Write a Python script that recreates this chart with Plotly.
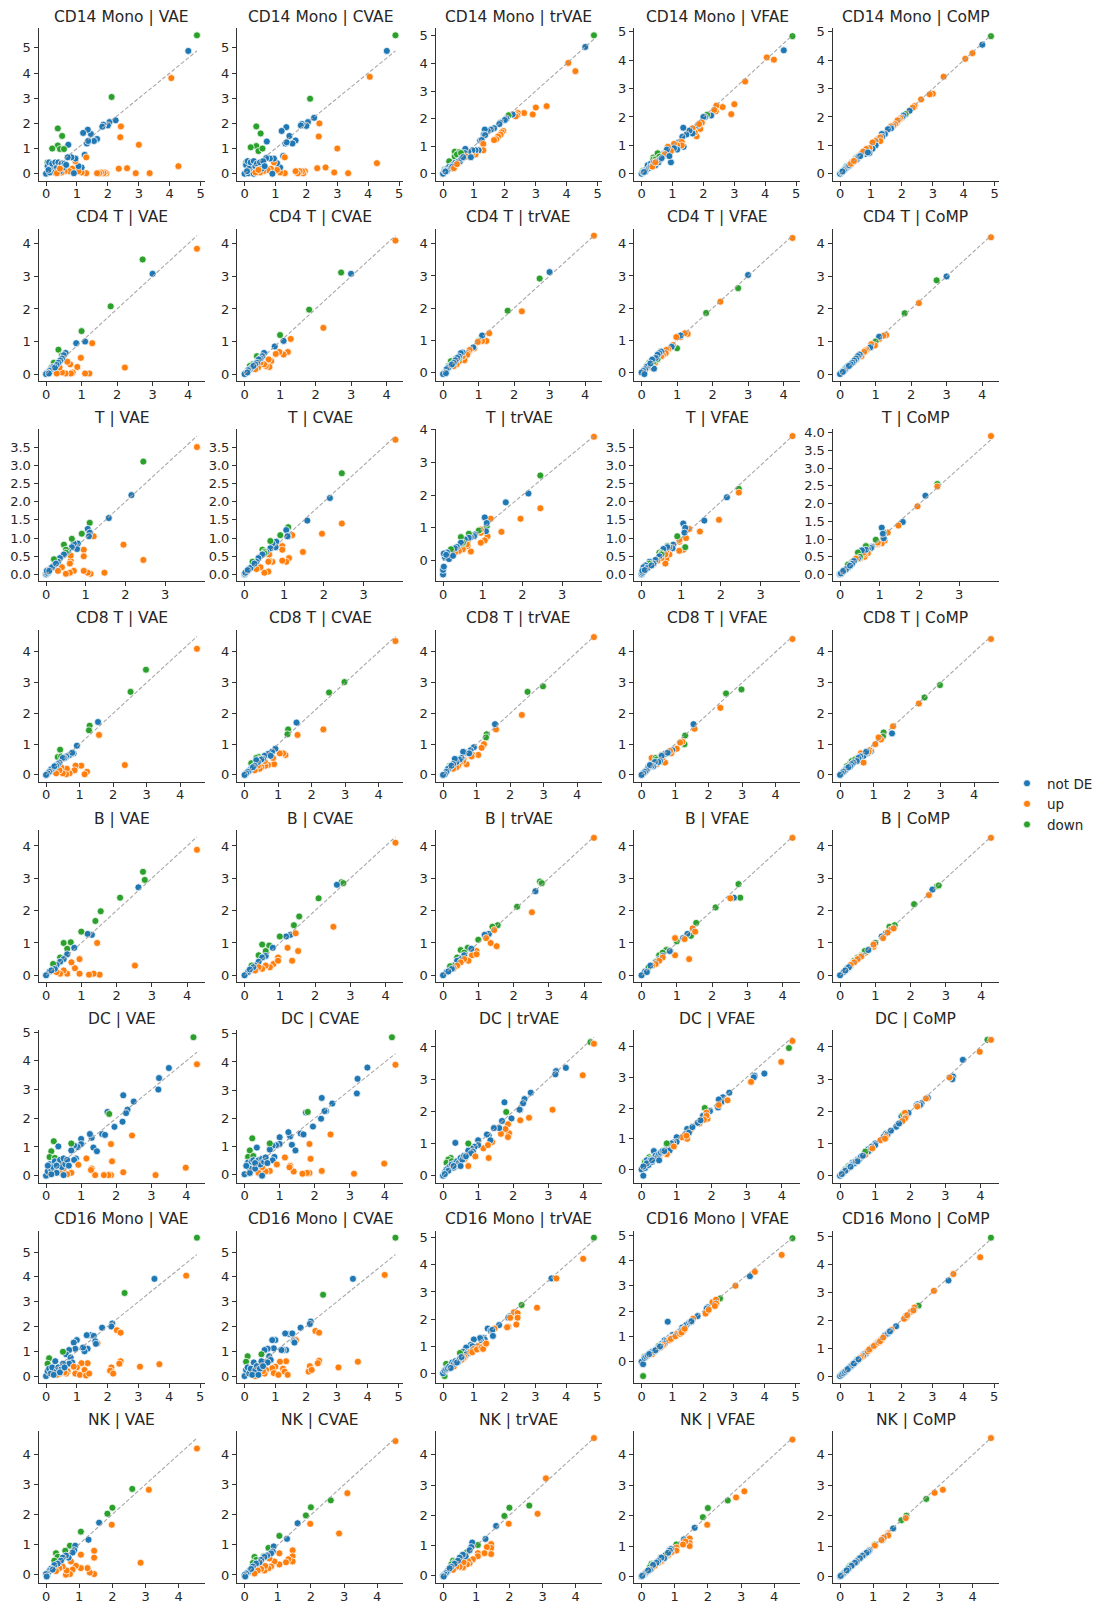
import plotly.graph_objects as go

# ---------------- data ----------------
CELL_TYPES = ["CD14 Mono", "CD4 T", "T", "CD8 T", "B", "DC", "CD16 Mono", "NK"]
METHODS = ["VAE", "CVAE", "trVAE", "VFAE", "CoMP"]
STATUS_LABELS = ["not DE", "up", "down"]
STATUS_COLORS = ["#1f77b4", "#ff7f0e", "#2ca02c"]

# rows: (true value, status 0=not DE/1=up/2=down, VAE, CVAE, trVAE, VFAE, CoMP)
CD14_MONO = [
    (4.88, 2, 5.50, 5.50, 5.02, 4.85, 4.85), (4.60, 0, 4.88, 4.88, 4.60, 4.35, 4.55),
    (4.28, 1, 0.30, 0.42, 3.72, 4.02, 4.25), (4.05, 1, 3.80, 3.85, 4.02, 4.10, 4.05),
    (3.35, 1, 0.02, 0.02, 2.45, 3.25, 3.42), (3.00, 1, 1.15, 1.00, 2.40, 2.45, 2.82),
    (2.90, 1, 0.02, 0.05, 2.15, 2.10, 2.80), (2.62, 1, 0.22, 0.25, 2.20, 2.35, 2.62),
    (2.42, 1, 1.88, 2.00, 2.20, 2.40, 2.40), (2.40, 1, 1.45, 1.48, 2.12, 2.20, 2.38),
    (2.35, 1, 0.20, 0.22, 2.08, 2.25, 2.33), (2.25, 0, 2.12, 2.22, 2.15, 2.05, 2.22),
    (2.12, 2, 3.05, 2.98, 2.12, 2.08, 2.10), (2.05, 0, 2.05, 2.05, 2.00, 2.00, 2.05),
    (2.00, 0, 1.92, 1.90, 1.95, 2.00, 1.98), (1.95, 1, 0.02, 0.10, 1.55, 1.80, 1.95),
    (1.90, 1, 0.05, 0.02, 1.50, 1.58, 1.90), (1.85, 0, 1.95, 1.98, 1.85, 1.75, 1.85),
    (1.82, 0, 1.87, 1.92, 1.80, 1.70, 1.80), (1.86, 1, 0.02, 0.10, 1.42, 1.75, 1.88),
    (1.78, 1, 0.05, 0.10, 1.35, 1.32, 1.75), (1.72, 1, 0.02, 0.02, 1.25, 1.45, 1.70),
    (1.65, 1, 0.02, 0.10, 1.22, 1.60, 1.67), (1.65, 0, 1.38, 1.32, 1.65, 1.42, 1.60),
    (1.55, 0, 1.30, 1.20, 1.60, 1.52, 1.57), (1.45, 0, 1.58, 1.50, 1.55, 1.38, 1.40),
    (1.35, 0, 1.75, 1.85, 1.60, 1.62, 1.40), (1.32, 0, 1.20, 1.20, 1.42, 1.30, 1.25),
    (1.36, 0, 1.30, 1.25, 1.40, 0.95, 1.30), (1.20, 0, 1.62, 1.70, 1.20, 1.10, 1.20),
    (1.25, 0, 0.75, 0.70, 1.22, 1.05, 1.22), (1.30, 1, 0.65, 0.65, 1.08, 1.12, 1.28),
    (1.30, 1, 0.02, 0.02, 0.85, 1.00, 1.15), (1.15, 1, 0.05, 0.05, 0.85, 1.00, 1.15),
    (1.15, 0, 0.25, 0.25, 0.85, 0.85, 1.00), (1.05, 1, 0.10, 0.15, 0.70, 1.05, 1.10),
    (1.05, 0, 0.30, 0.42, 0.85, 0.90, 0.88), (0.95, 1, 0.50, 0.45, 0.75, 0.80, 0.90),
    (0.95, 0, 0.60, 0.60, 0.85, 0.40, 0.73), (0.85, 1, 0.20, 0.20, 0.70, 0.95, 0.87),
    (0.82, 0, 0.65, 0.60, 0.80, 0.85, 0.70), (0.72, 0, 1.15, 1.28, 0.90, 0.70, 0.75),
    (0.70, 0, 0.65, 0.62, 0.75, 0.62, 0.70), (0.75, 1, 0.10, 0.15, 0.62, 0.68, 0.78),
    (0.60, 1, 0.10, 0.10, 0.55, 0.58, 0.62), (0.50, 1, 0.05, 0.05, 0.50, 0.40, 0.50),
    (0.38, 2, 1.80, 1.88, 0.80, 0.57, 0.40), (0.52, 2, 1.50, 1.60, 0.78, 0.72, 0.55),
    (0.38, 2, 1.12, 1.10, 0.62, 0.50, 0.38), (0.45, 2, 0.98, 0.90, 0.70, 0.50, 0.45),
    (0.20, 2, 1.00, 1.05, 0.45, 0.30, 0.25), (0.58, 2, 0.98, 1.00, 0.75, 0.60, 0.58),
    (0.05, 2, 0.45, 0.45, 0.15, 0.10, 0.08), (0.00, 0, 0.00, 0.00, 0.00, 0.00, 0.00),
    (0.05, 0, 0.30, 0.35, 0.10, 0.05, 0.05), (0.10, 0, 0.45, 0.50, 0.15, 0.10, 0.10),
    (0.15, 0, 0.20, 0.20, 0.20, 0.15, 0.15), (0.20, 0, 0.40, 0.45, 0.25, 0.30, 0.20),
    (0.25, 0, 0.10, 0.05, 0.20, 0.20, 0.25), (0.30, 0, 0.45, 0.50, 0.30, 0.35, 0.28),
    (0.35, 0, 0.25, 0.30, 0.35, 0.25, 0.33), (0.40, 0, 0.45, 0.40, 0.40, 0.40, 0.40),
    (0.45, 0, 0.10, 0.15, 0.35, 0.30, 0.45), (0.50, 0, 0.40, 0.45, 0.45, 0.42, 0.48),
    (0.55, 0, 0.25, 0.20, 0.45, 0.40, 0.52), (0.60, 0, 0.40, 0.50, 0.55, 0.50, 0.60),
    (0.12, 0, 0.05, 0.02, 0.10, 0.08, 0.12), (0.08, 0, 0.15, 0.10, 0.08, 0.06, 0.08),
    (0.30, 0, 0.05, 0.00, 0.25, 0.25, 0.30), (0.65, 0, 0.35, 0.30, 0.60, 0.55, 0.62),
    (0.90, 0, 0.02, 0.00, 0.60, 0.62, 0.75), (0.35, 1, 0.02, 0.05, 0.20, 0.25, 0.35),
    (0.45, 1, 0.20, 0.15, 0.35, 0.40, 0.45),
]

CD4_T = [
    (4.25, 1, 3.85, 4.10, 4.25, 4.18, 4.20), (3.00, 0, 3.08, 3.08, 3.12, 3.03, 3.00),
    (2.72, 2, 3.52, 3.12, 2.92, 2.62, 2.88), (2.22, 1, 0.20, 1.42, 1.90, 2.20, 2.18),
    (1.82, 2, 2.08, 1.98, 1.92, 1.85, 1.87), (1.30, 1, 0.95, 1.08, 1.22, 1.20, 1.20),
    (1.22, 1, 0.02, 0.68, 0.98, 1.22, 1.18), (1.10, 1, 0.02, 0.60, 0.98, 1.10, 1.08),
    (1.10, 0, 1.00, 1.02, 1.15, 1.15, 1.15), (1.00, 2, 1.32, 1.20, 0.98, 0.75, 1.00),
    (0.98, 1, 0.50, 0.68, 0.95, 1.10, 0.88), (0.88, 1, 0.22, 0.62, 0.75, 0.85, 0.92),
    (0.85, 0, 0.95, 0.85, 0.78, 0.80, 0.82), (0.75, 1, 0.05, 0.40, 0.70, 0.72, 0.75),
    (0.70, 1, 0.02, 0.22, 0.60, 0.70, 0.72), (0.68, 1, 0.30, 0.45, 0.55, 0.60, 0.68),
    (0.60, 1, 0.38, 0.25, 0.38, 0.55, 0.55), (0.55, 1, 0.02, 0.30, 0.50, 0.50, 0.58),
    (0.45, 1, 0.05, 0.35, 0.35, 0.40, 0.45), (0.38, 1, 0.20, 0.20, 0.25, 0.30, 0.38),
    (0.30, 1, 0.02, 0.15, 0.20, 0.15, 0.30), (0.35, 2, 0.75, 0.55, 0.42, 0.35, 0.35),
    (0.45, 2, 0.58, 0.50, 0.45, 0.42, 0.45), (0.22, 2, 0.35, 0.30, 0.35, 0.30, 0.25),
    (0.15, 2, 0.20, 0.25, 0.20, 0.20, 0.18), (0.55, 0, 0.65, 0.65, 0.62, 0.65, 0.60),
    (0.50, 0, 0.58, 0.55, 0.60, 0.60, 0.55), (0.45, 0, 0.48, 0.48, 0.50, 0.55, 0.48),
    (0.40, 0, 0.42, 0.45, 0.45, 0.45, 0.42), (0.35, 0, 0.35, 0.35, 0.38, 0.12, 0.35),
    (0.30, 0, 0.28, 0.30, 0.30, 0.40, 0.30), (0.20, 0, 0.22, 0.20, 0.22, 0.22, 0.22),
    (0.15, 0, 0.15, 0.15, 0.15, 0.18, 0.15), (0.10, 0, 0.10, 0.12, 0.10, 0.10, 0.10),
    (0.05, 0, 0.05, 0.05, 0.00, 0.05, 0.05), (0.00, 0, 0.00, 0.00, -0.05, 0.00, 0.00),
    (0.25, 0, 0.20, 0.25, 0.25, 0.28, 0.25), (0.08, 0, 0.02, 0.05, -0.02, -0.05, 0.07),
]

T_CELL = [
    (3.80, 1, 3.50, 3.70, 3.78, 3.80, 3.90), (2.45, 2, 3.10, 2.78, 2.60, 2.35, 2.55),
    (2.45, 1, 0.40, 1.40, 1.60, 2.25, 2.48), (2.15, 0, 2.18, 2.10, 2.05, 2.12, 2.22),
    (1.95, 1, 0.82, 1.12, 1.28, 1.50, 1.92), (1.58, 0, 1.55, 1.48, 1.78, 1.48, 1.48),
    (1.47, 1, 0.05, 0.62, 0.88, 1.18, 1.38), (1.20, 1, 1.05, 1.08, 1.28, 1.25, 1.18),
    (1.12, 1, 0.02, 0.45, 0.75, 1.00, 0.95), (1.05, 1, 0.05, 0.35, 0.62, 0.68, 0.88),
    (1.10, 2, 1.42, 1.30, 1.05, 0.75, 1.18), (1.05, 0, 1.25, 1.22, 1.32, 1.40, 1.32),
    (1.10, 0, 1.15, 1.05, 1.15, 1.28, 1.02), (1.08, 0, 1.05, 1.05, 0.90, 1.15, 1.15),
    (0.95, 1, 0.68, 0.78, 0.85, 0.90, 0.85), (0.95, 1, 0.50, 0.68, 0.55, 0.65, 0.88),
    (0.95, 1, 0.10, 0.38, 0.95, 0.95, 0.90), (0.90, 2, 1.12, 1.08, 0.92, 1.05, 0.98),
    (0.80, 0, 0.85, 0.90, 0.80, 0.82, 0.78), (0.78, 0, 0.70, 0.75, 0.75, 0.72, 0.75),
    (0.70, 0, 0.85, 0.85, 0.72, 0.75, 0.72), (0.70, 1, 0.10, 0.35, 0.28, 0.55, 0.60),
    (0.65, 2, 0.98, 0.92, 0.82, 0.78, 0.80), (0.62, 1, 0.38, 0.38, 0.45, 0.42, 0.50),
    (0.60, 1, 0.30, 0.08, 0.60, 0.30, 0.60), (0.62, 1, 0.52, 0.55, 0.60, 0.62, 0.58),
    (0.60, 1, 0.05, 0.35, 0.50, 0.55, 0.62), (0.50, 1, 0.02, 0.05, 0.35, 0.45, 0.45),
    (0.65, 0, 0.75, 0.72, 0.70, 0.75, 0.70), (0.55, 0, 0.65, 0.62, 0.65, 0.70, 0.68),
    (0.45, 2, 0.82, 0.68, 0.72, 0.60, 0.62), (0.50, 2, 0.68, 0.62, 0.52, 0.58, 0.48),
    (0.50, 2, 0.60, 0.58, 0.55, 0.55, 0.50), (0.45, 0, 0.55, 0.55, 0.55, 0.50, 0.45),
    (0.40, 1, 0.20, 0.20, 0.30, 0.38, 0.45), (0.30, 1, 0.10, 0.15, 0.25, 0.28, 0.35),
    (0.35, 0, 0.45, 0.45, 0.42, 0.40, 0.38), (0.30, 0, 0.35, 0.35, 0.38, 0.30, 0.30),
    (0.20, 0, 0.25, 0.25, 0.30, 0.35, 0.20), (0.20, 2, 0.42, 0.35, 0.35, 0.30, 0.28),
    (0.10, 0, 0.15, 0.15, 0.25, 0.25, 0.12), (0.05, 0, 0.05, 0.08, 0.10, 0.20, 0.05),
    (0.00, 0, 0.00, 0.00, -0.42, 0.00, 0.00), (0.00, 0, 0.02, 0.02, -0.28, 0.02, 0.02),
    (0.02, 0, 0.05, 0.05, -0.18, 0.05, 0.03), (0.02, 0, 0.10, 0.05, 0.22, 0.10, 0.03),
    (0.15, 0, 0.20, 0.18, 0.05, 0.18, 0.15), (0.25, 0, 0.30, 0.30, 0.15, 0.25, 0.25),
    (0.08, 0, 0.10, 0.12, 0.18, 0.12, 0.10),
]

CD8_T = [
    (4.50, 1, 4.10, 4.35, 4.48, 4.42, 4.42), (2.98, 2, 3.42, 3.02, 2.88, 2.78, 2.92),
    (2.52, 2, 2.70, 2.68, 2.70, 2.65, 2.52), (2.35, 1, 0.32, 1.48, 1.95, 2.18, 2.32),
    (1.58, 1, 1.30, 1.30, 1.48, 1.50, 1.58), (1.55, 0, 1.72, 1.70, 1.65, 1.65, 1.35),
    (1.30, 2, 1.60, 1.48, 1.32, 1.28, 1.38), (1.28, 2, 1.45, 1.32, 1.22, 1.00, 1.25),
    (1.22, 1, 0.10, 0.65, 1.00, 1.08, 1.15), (1.15, 1, 0.02, 0.70, 0.88, 1.05, 1.22),
    (1.05, 1, 0.30, 0.70, 0.65, 0.85, 1.00), (0.92, 0, 0.95, 0.85, 0.90, 0.80, 0.78),
    (0.82, 0, 0.70, 0.75, 0.80, 0.75, 0.70), (0.88, 1, 0.30, 0.35, 0.65, 0.70, 0.80),
    (0.85, 1, 0.15, 0.55, 0.60, 0.78, 0.75), (0.70, 1, 0.05, 0.32, 0.35, 0.40, 0.40),
    (0.62, 1, 0.20, 0.30, 0.50, 0.55, 0.70), (0.60, 1, 0.02, 0.45, 0.45, 0.65, 0.60),
    (0.50, 1, 0.05, 0.25, 0.40, 0.45, 0.55), (0.45, 1, 0.25, 0.20, 0.30, 0.35, 0.50),
    (0.40, 1, 0.15, 0.30, 0.25, 0.40, 0.45), (0.30, 1, 0.05, 0.15, 0.20, 0.55, 0.38),
    (0.42, 2, 0.82, 0.58, 0.45, 0.55, 0.48), (0.35, 2, 0.58, 0.55, 0.40, 0.35, 0.45),
    (0.45, 2, 0.60, 0.50, 0.50, 0.50, 0.50), (0.20, 2, 0.22, 0.38, 0.30, 0.25, 0.28),
    (0.70, 0, 0.65, 0.68, 0.72, 0.68, 0.62), (0.60, 0, 0.60, 0.62, 0.75, 0.62, 0.60),
    (0.55, 0, 0.55, 0.52, 0.55, 0.45, 0.55), (0.50, 0, 0.55, 0.50, 0.50, 0.42, 0.45),
    (0.40, 0, 0.40, 0.42, 0.42, 0.42, 0.40), (0.35, 0, 0.35, 0.48, 0.52, 0.28, 0.35),
    (0.30, 0, 0.30, 0.30, 0.35, 0.30, 0.28), (0.20, 0, 0.20, 0.22, 0.25, 0.25, 0.22),
    (0.15, 0, 0.18, 0.15, 0.20, 0.15, 0.15), (0.10, 0, 0.10, 0.10, 0.10, 0.10, 0.10),
    (0.05, 0, 0.05, 0.05, 0.02, 0.05, 0.05), (0.00, 0, 0.00, 0.00, 0.00, 0.00, 0.00),
    (0.25, 0, 0.28, 0.25, 0.30, 0.32, 0.25), (0.78, 0, 0.72, 0.62, 0.70, 0.72, 0.75),
]

B_CELL = [
    (4.28, 1, 3.88, 4.10, 4.25, 4.25, 4.25), (2.75, 2, 3.20, 2.88, 2.90, 2.82, 2.75),
    (2.80, 2, 2.95, 2.85, 2.85, 2.40, 2.78), (2.62, 0, 2.72, 2.80, 2.60, 2.40, 2.65),
    (2.52, 1, 0.30, 1.50, 1.95, 2.38, 2.48), (2.10, 2, 2.40, 2.38, 2.12, 2.10, 2.20),
    (1.55, 2, 1.98, 1.82, 1.55, 1.62, 1.55), (1.40, 2, 1.68, 1.55, 1.50, 1.22, 1.50),
    (1.30, 0, 1.25, 1.25, 1.28, 1.28, 1.30), (1.18, 0, 1.28, 1.20, 1.25, 1.15, 1.20),
    (1.45, 1, 1.00, 1.30, 1.40, 1.45, 1.42), (1.52, 1, 0.02, 0.75, 0.90, 1.35, 1.45),
    (1.35, 1, 0.05, 0.45, 1.00, 0.50, 1.32), (1.22, 1, 0.02, 0.85, 1.15, 1.12, 1.15),
    (1.00, 2, 1.35, 1.20, 1.10, 1.05, 1.00), (0.95, 1, 0.50, 0.55, 0.75, 0.62, 0.88),
    (0.82, 1, 0.22, 0.35, 0.62, 0.75, 0.80), (0.72, 1, 0.40, 0.25, 0.45, 0.80, 0.70),
    (0.95, 1, 0.05, 0.45, 0.65, 1.15, 0.95), (0.50, 2, 1.00, 0.95, 0.78, 0.62, 0.55),
    (0.70, 2, 1.02, 0.92, 0.85, 0.78, 0.75), (0.60, 2, 0.82, 0.75, 0.70, 0.70, 0.62),
    (0.40, 2, 0.55, 0.62, 0.55, 0.42, 0.45), (0.80, 0, 0.85, 0.85, 0.82, 0.75, 0.78),
    (0.60, 0, 0.65, 0.60, 0.62, 0.60, 0.60), (0.50, 0, 0.50, 0.55, 0.50, 0.50, 0.50),
    (0.40, 0, 0.42, 0.42, 0.45, 0.40, 0.40), (0.30, 0, 0.32, 0.30, 0.30, 0.30, 0.30),
    (0.20, 0, 0.22, 0.22, 0.20, 0.25, 0.20), (0.10, 0, 0.12, 0.10, 0.10, 0.12, 0.10),
    (0.00, 0, 0.00, 0.00, 0.00, 0.00, 0.00), (0.60, 1, 0.05, 0.30, 0.50, 0.55, 0.58),
    (0.50, 1, 0.15, 0.20, 0.40, 0.45, 0.50), (0.40, 1, 0.05, 0.25, 0.30, 0.35, 0.40),
    (0.30, 1, 0.10, 0.15, 0.22, 0.30, 0.32), (0.20, 2, 0.35, 0.30, 0.28, 0.25, 0.22),
    (0.25, 0, 0.20, 0.25, 0.20, 0.30, 0.25), (0.15, 0, 0.15, 0.18, 0.12, 0.10, 0.15),
]

DC_CELL = [
    (4.20, 2, 4.82, 4.88, 4.15, 3.95, 4.22), (4.30, 1, 3.88, 3.90, 4.10, 4.18, 4.22),
    (3.50, 0, 3.75, 3.80, 3.35, 3.12, 3.60), (3.22, 0, 3.40, 3.40, 3.25, 3.05, 3.08),
    (3.20, 0, 3.00, 2.88, 3.15, 3.00, 3.00), (3.98, 1, 0.28, 0.38, 3.12, 3.50, 3.85),
    (3.12, 1, 0.02, 0.02, 2.05, 2.85, 3.05), (2.50, 0, 2.58, 2.52, 2.58, 2.50, 2.42),
    (2.32, 0, 2.30, 2.25, 2.38, 2.35, 2.25), (2.28, 0, 2.18, 2.25, 2.25, 2.20, 2.20),
    (2.20, 0, 2.80, 2.72, 2.05, 2.28, 2.22), (2.18, 0, 1.88, 1.98, 2.05, 2.02, 2.18),
    (1.95, 0, 1.70, 1.70, 1.78, 1.90, 1.95), (1.75, 0, 2.22, 2.20, 2.28, 1.75, 1.85),
    (1.80, 2, 2.15, 2.22, 1.98, 2.00, 1.90), (2.45, 1, 1.40, 1.42, 1.80, 2.25, 2.40),
    (2.20, 1, 0.12, 0.12, 1.72, 2.10, 2.15), (1.85, 1, 1.10, 1.08, 1.60, 1.85, 1.95),
    (1.88, 1, 0.50, 0.55, 1.32, 1.65, 1.82), (1.85, 1, 0.02, 0.05, 1.20, 1.75, 1.78),
    (1.78, 1, 0.02, 0.05, 1.45, 1.62, 1.70), (1.65, 1, 0.02, 0.02, 1.30, 1.50, 1.60),
    (1.60, 0, 1.45, 1.45, 1.48, 1.52, 1.52), (1.68, 0, 1.42, 1.42, 1.70, 1.60, 1.62),
    (1.40, 1, 0.02, 0.10, 1.05, 1.30, 1.35), (1.30, 0, 1.32, 1.35, 1.25, 1.32, 1.30),
    (1.25, 0, 1.45, 1.50, 1.28, 1.15, 1.22), (1.35, 0, 0.98, 1.05, 1.10, 1.20, 1.28),
    (1.45, 0, 0.85, 0.85, 1.48, 1.38, 1.40), (1.30, 1, 0.25, 0.30, 0.55, 1.00, 1.20),
    (1.15, 1, 0.60, 0.60, 0.85, 1.05, 1.10), (1.28, 1, 0.20, 0.25, 0.95, 1.10, 1.15),
    (1.00, 0, 1.28, 1.32, 1.10, 1.05, 1.00), (1.00, 0, 1.10, 1.08, 0.95, 0.90, 0.95),
    (0.90, 0, 1.00, 1.03, 0.90, 0.88, 0.90), (0.80, 0, 1.05, 1.02, 0.85, 0.80, 0.82),
    (0.72, 0, 0.88, 0.88, 0.78, 0.82, 0.72), (0.85, 0, 0.60, 0.62, 0.75, 0.85, 0.80),
    (0.80, 0, 0.55, 0.50, 0.70, 0.62, 0.75), (0.92, 1, 0.38, 0.35, 0.60, 0.75, 0.85),
    (0.72, 1, 0.10, 0.12, 0.30, 0.50, 0.65), (0.60, 1, 0.05, 0.10, 0.50, 0.55, 0.58),
    (0.50, 1, 0.25, 0.25, 0.35, 0.40, 0.48), (0.40, 1, 0.10, 0.05, 0.30, 0.35, 0.42),
    (0.22, 2, 1.20, 1.28, 0.55, 0.40, 0.28), (0.72, 2, 1.12, 1.10, 1.00, 0.85, 0.75),
    (0.15, 2, 0.85, 0.85, 0.50, 0.30, 0.20), (0.10, 2, 0.65, 0.62, 0.40, 0.25, 0.12),
    (0.25, 2, 0.62, 0.65, 0.45, 0.35, 0.30), (0.35, 0, 1.02, 0.95, 1.02, 0.60, 0.40),
    (0.00, 0, 0.00, 0.00, 0.00, 0.00, 0.00), (0.05, 0, 0.15, 0.30, 0.10, -0.20, 0.05),
    (0.10, 0, 0.40, 0.42, 0.20, 0.05, 0.10), (0.15, 0, 0.20, 0.20, 0.25, 0.30, 0.15),
    (0.20, 0, 0.30, 0.45, 0.30, 0.15, 0.20), (0.25, 0, 0.50, 0.50, 0.35, 0.30, 0.25),
    (0.30, 0, 0.10, 0.20, 0.25, 0.25, 0.30), (0.35, 0, 0.40, 0.45, 0.40, 0.35, 0.35),
    (0.40, 0, 0.55, 0.50, 0.45, 0.45, 0.38), (0.45, 0, 0.30, 0.35, 0.40, 0.40, 0.45),
    (0.50, 0, 0.60, 0.55, 0.55, 0.50, 0.50), (0.55, 0, 0.40, 0.45, 0.50, 0.55, 0.52),
    (0.60, 0, 0.55, 0.60, 0.62, 0.60, 0.60), (0.50, 0, 0.02, -0.05, 0.30, 0.30, 0.45),
    (0.65, 0, 0.35, 0.40, 0.60, 0.60, 0.62), (0.15, 0, 0.05, 0.05, 0.15, 0.20, 0.15),
    (0.05, 0, 0.35, 0.30, 0.05, 0.10, 0.05), (0.30, 0, 0.35, 0.40, 0.30, 0.30, 0.28),
]

CD16_MONO = [
    (4.90, 2, 5.58, 5.58, 5.00, 4.88, 4.95), (4.55, 1, 4.05, 4.08, 4.22, 4.22, 4.25),
    (3.52, 0, 3.92, 3.92, 3.50, 3.38, 3.42), (3.68, 1, 0.48, 0.58, 3.50, 3.55, 3.65),
    (2.55, 2, 3.35, 3.28, 2.52, 2.50, 2.52), (3.05, 1, 0.38, 0.35, 2.42, 3.00, 3.05),
    (2.15, 0, 2.12, 2.20, 2.10, 2.15, 2.10), (2.12, 0, 2.00, 2.10, 2.05, 2.10, 2.12),
    (1.82, 0, 1.95, 1.95, 1.78, 1.80, 1.78), (2.30, 1, 1.85, 1.82, 2.25, 2.35, 2.30),
    (2.42, 1, 1.75, 1.75, 2.22, 2.45, 2.40), (2.42, 1, 0.60, 0.62, 2.05, 2.30, 2.45),
    (2.38, 1, 0.50, 0.52, 1.80, 2.20, 2.35), (2.12, 1, 0.35, 0.40, 1.72, 1.95, 2.08),
    (2.08, 1, 0.22, 0.18, 1.70, 1.90, 2.05), (2.18, 1, 0.10, 0.25, 2.05, 2.05, 2.18),
    (1.67, 1, 1.32, 1.45, 1.65, 1.70, 1.65), (1.45, 0, 1.65, 1.70, 1.65, 1.45, 1.45),
    (1.55, 0, 1.62, 1.72, 1.58, 1.55, 1.52), (1.60, 0, 1.40, 1.40, 1.60, 1.58, 1.58),
    (1.62, 0, 1.30, 1.35, 1.38, 1.60, 1.60), (1.32, 0, 1.65, 1.72, 1.30, 1.35, 1.30),
    (1.35, 0, 1.10, 1.05, 1.25, 1.28, 1.32), (1.25, 0, 1.00, 1.05, 1.20, 1.20, 1.22),
    (1.20, 0, 1.15, 1.05, 1.30, 1.15, 1.18), (1.00, 0, 1.45, 1.45, 1.25, 1.05, 1.00),
    (0.90, 0, 1.35, 1.45, 1.05, 0.95, 0.90), (0.95, 0, 1.10, 1.12, 1.00, 0.95, 0.92),
    (0.75, 0, 1.05, 1.10, 0.95, 0.85, 0.75), (0.65, 0, 0.88, 1.05, 0.80, 0.70, 0.65),
    (0.80, 0, 0.75, 0.80, 0.78, 0.82, 0.80), (0.85, 0, 0.55, 0.65, 0.75, 1.58, 0.82),
    (0.75, 0, 0.50, 0.55, 0.70, 0.72, 0.72), (1.35, 1, 0.52, 0.60, 1.05, 1.20, 1.30),
    (1.15, 1, 0.52, 0.58, 1.00, 1.10, 1.12), (1.00, 1, 0.35, 0.38, 0.90, 0.95, 1.00),
    (0.90, 1, 0.38, 0.32, 0.80, 0.85, 0.88), (0.95, 1, 0.10, 0.12, 0.78, 0.90, 0.95),
    (1.10, 1, 0.05, 0.05, 0.88, 1.00, 1.08), (1.25, 1, 0.25, 0.30, 0.95, 1.10, 1.20),
    (1.30, 1, 0.02, 0.18, 0.90, 1.15, 1.25), (1.40, 1, 0.10, 0.05, 1.10, 1.30, 1.38),
    (0.70, 1, 0.20, 0.25, 0.60, 0.65, 0.68), (0.65, 1, 0.10, 0.10, 0.55, 0.60, 0.65),
    (0.60, 1, 0.15, 0.20, 0.50, 0.55, 0.60), (0.45, 1, 0.10, 0.15, 0.40, 0.42, 0.45),
    (0.35, 1, 0.05, 0.00, 0.25, 0.30, 0.35), (0.55, 2, 0.98, 0.88, 0.75, 0.62, 0.58),
    (0.10, 2, 0.72, 0.80, 0.35, 0.20, 0.12), (0.05, 2, 0.50, 0.58, -0.10, -0.57, 0.05),
    (0.00, 0, 0.00, 0.00, 0.00, 0.00, 0.00), (0.05, 0, 0.20, 0.25, 0.10, -0.10, 0.05),
    (0.10, 0, 0.30, 0.35, 0.15, 0.15, 0.10), (0.15, 0, 0.10, 0.10, 0.20, 0.20, 0.15),
    (0.20, 0, 0.35, 0.30, 0.25, 0.25, 0.20), (0.30, 0, 0.60, 0.55, 0.40, 0.35, 0.30),
    (0.35, 0, 0.20, 0.25, 0.35, 0.40, 0.35), (0.40, 0, 0.35, 0.40, 0.45, 0.40, 0.40),
    (0.50, 0, 0.28, 0.30, 0.45, 0.50, 0.50), (0.55, 0, 0.50, 0.60, 0.55, 0.55, 0.55),
    (0.25, 0, 0.05, 0.05, 0.20, 0.30, 0.25), (0.45, 0, 0.15, 0.05, 0.40, 0.45, 0.45),
    (0.60, 0, 0.35, 0.40, 0.60, 0.60, 0.60),
]

NK_CELL = [
    (4.55, 1, 4.20, 4.45, 4.55, 4.50, 4.55), (3.10, 1, 2.82, 2.72, 3.22, 2.80, 2.85),
    (2.60, 2, 2.85, 2.48, 2.32, 2.50, 2.55), (2.00, 2, 2.22, 2.25, 2.25, 2.25, 2.00),
    (1.85, 2, 2.02, 1.98, 1.98, 1.95, 1.85), (1.98, 1, 1.65, 1.70, 1.72, 1.70, 1.92),
    (2.85, 1, 0.38, 1.38, 2.05, 2.60, 2.75), (1.60, 0, 1.72, 1.72, 1.65, 1.60, 1.58),
    (1.28, 0, 1.15, 1.20, 1.22, 1.22, 1.20), (1.05, 2, 1.42, 1.30, 1.02, 1.05, 1.05),
    (1.45, 1, 0.78, 0.82, 1.05, 1.25, 1.42), (1.45, 1, 0.55, 0.62, 0.92, 1.10, 1.38),
    (1.45, 1, 0.00, 0.45, 0.72, 1.00, 1.35), (1.32, 1, 0.05, 0.52, 0.95, 1.15, 1.28),
    (1.25, 1, 0.20, 0.42, 0.75, 1.05, 1.20), (1.05, 1, 0.65, 0.72, 0.75, 0.95, 1.00),
    (1.05, 1, 0.20, 0.35, 0.65, 0.85, 1.02), (0.90, 1, 0.28, 0.45, 0.55, 0.80, 0.88),
    (0.80, 1, 0.15, 0.28, 0.42, 0.70, 0.78), (0.75, 1, 0.42, 0.55, 0.50, 0.72, 0.75),
    (0.72, 1, 0.00, 0.22, 0.38, 0.65, 0.70), (0.60, 1, -0.02, 0.15, 0.28, 0.50, 0.60),
    (0.62, 1, 0.12, 0.30, 0.45, 0.55, 0.62), (0.50, 1, 0.25, 0.20, 0.30, 0.45, 0.48),
    (0.40, 1, 0.20, 0.15, 0.30, 0.35, 0.40), (0.30, 1, 0.10, 0.05, 0.20, 0.25, 0.30),
    (0.72, 2, 0.95, 0.90, 0.78, 0.70, 0.72), (0.58, 2, 0.78, 0.62, 0.70, 0.62, 0.60),
    (0.30, 2, 0.70, 0.60, 0.50, 0.42, 0.35), (0.35, 2, 0.58, 0.50, 0.45, 0.40, 0.38),
    (0.25, 2, 0.45, 0.40, 0.38, 0.30, 0.28), (0.88, 0, 0.95, 0.95, 1.10, 0.90, 0.85),
    (0.85, 0, 0.80, 0.78, 0.95, 0.85, 0.82), (0.80, 0, 0.72, 0.72, 0.85, 0.78, 0.78),
    (0.68, 0, 0.55, 0.65, 0.65, 0.60, 0.68), (0.60, 0, 0.62, 0.60, 0.70, 0.62, 0.60),
    (0.50, 0, 0.55, 0.50, 0.60, 0.50, 0.50), (0.45, 0, 0.45, 0.42, 0.50, 0.45, 0.45),
    (0.35, 0, 0.35, 0.38, 0.40, 0.38, 0.35), (0.25, 0, 0.30, 0.28, 0.30, 0.22, 0.25),
    (0.15, 0, 0.18, 0.15, 0.18, 0.15, 0.15), (0.10, 0, 0.10, 0.08, 0.10, 0.10, 0.10),
    (0.05, 0, 0.02, 0.05, 0.05, 0.05, 0.05), (0.00, 0, 0.00, 0.00, 0.00, 0.00, 0.00),
    (0.20, 0, 0.15, 0.20, 0.25, 0.20, 0.20), (0.02, 0, -0.08, -0.05, -0.02, 0.02, 0.02),
]

CELL_DATA = [CD14_MONO, CD4_T, T_CELL, CD8_T, B_CELL, DC_CELL, CD16_MONO, NK_CELL]

# y tick step per panel (rows = cell types, cols = methods)
Y_TICK_STEP = [
    [1, 1, 1, 1, 1],
    [1, 1, 1, 1, 1],
    [0.5, 0.5, 1, 0.5, 0.5],
    [1, 1, 1, 1, 1],
    [1, 1, 1, 1, 1],
    [1, 1, 1, 1, 1],
    [1, 1, 1, 1, 1],
    [1, 1, 1, 1, 1],
]
X_TICK_STEP = 1

# ---------------- layout constants ----------------
W, H = 1099, 1604
LEFT0, COL_STEP, PW = 38.5, 198.5, 166.0
TOP0, ROW_STEP, PH = 21.5, 201.4, 153.0
FONT = "DejaVu Sans"
TXT = "#262626"
AX = "#333333"


def limits(vals):
    lo, hi = min(vals), max(vals)
    pad = 0.05 * (hi - lo)
    return [lo - pad, hi + pad]


fig = go.Figure()
layout = {}
annotations = []

for r, (ct, rows) in enumerate(zip(CELL_TYPES, CELL_DATA)):
    xs = [row[0] for row in rows]
    st = [row[1] for row in rows]
    lo, hi = min(xs), max(xs)
    for c, m in enumerate(METHODS):
        k = r * 5 + c + 1
        ys = [row[2 + c] for row in rows]
        xname = "x" if k == 1 else f"x{k}"
        yname = "y" if k == 1 else f"y{k}"
        fig.add_trace(go.Scatter(
            x=xs, y=ys, mode="markers", xaxis=xname, yaxis=yname, showlegend=False,
            marker=dict(size=7, color=[STATUS_COLORS[s] for s in st],
                        line=dict(width=0.75, color="white")),
            hoverinfo="skip"))
        fig.add_trace(go.Scatter(
            x=[lo, hi], y=[lo, hi], mode="lines", xaxis=xname, yaxis=yname,
            showlegend=False, hoverinfo="skip",
            line=dict(color="#a8a8a8", width=1.1, dash="4px,2px")))

        x0 = LEFT0 + c * COL_STEP
        top = TOP0 + r * ROW_STEP
        xr = limits(xs)
        yr = limits(ys + [lo, hi])
        ystep = Y_TICK_STEP[r][c]
        common = dict(showline=True, linecolor=AX, linewidth=1, ticks="outside",
                      ticklen=4, tickwidth=1, tickcolor=AX, showgrid=False,
                      zeroline=False, tick0=0,
                      tickfont=dict(family=FONT, size=13, color=TXT))
        layout["xaxis" if k == 1 else f"xaxis{k}"] = dict(
            domain=[x0 / W, (x0 + PW) / W], anchor=yname, range=xr,
            dtick=X_TICK_STEP, ticklabelstandoff=-3, **common)
        layout["yaxis" if k == 1 else f"yaxis{k}"] = dict(
            domain=[1 - (top + PH) / H, 1 - top / H], anchor=xname, range=yr,
            dtick=ystep, tickformat=".1f" if ystep < 1 else "d", **common)
        annotations.append(dict(
            text=f"{ct} | {m}", x=(x0 + PW / 2) / W, y=1 - (top - 11.5) / H,
            xref="paper", yref="paper", xanchor="center", yanchor="middle",
            showarrow=False, font=dict(family=FONT, size=15.5, color=TXT)))

for lab, col in zip(STATUS_LABELS, STATUS_COLORS):
    fig.add_trace(go.Scatter(
        x=[None], y=[None], mode="markers", name=lab, showlegend=True,
        marker=dict(size=7, color=col, line=dict(width=0.75, color="white"))))

fig.update_layout(
    width=W, height=H, margin=dict(l=0, r=0, t=0, b=0),
    plot_bgcolor="white", paper_bgcolor="white",
    font=dict(family=FONT, color=TXT),
    annotations=annotations,
    legend=dict(x=1007 / W, xanchor="left", y=1 - 801 / H, yanchor="middle",
                font=dict(family=FONT, size=13.5, color=TXT),
                bgcolor="rgba(0,0,0,0)", borderwidth=0, tracegroupgap=0),
    **layout)

fig.write_html("out.html", config={"displayModeBar": False},
               post_script="document.body.style.margin='0px';")
